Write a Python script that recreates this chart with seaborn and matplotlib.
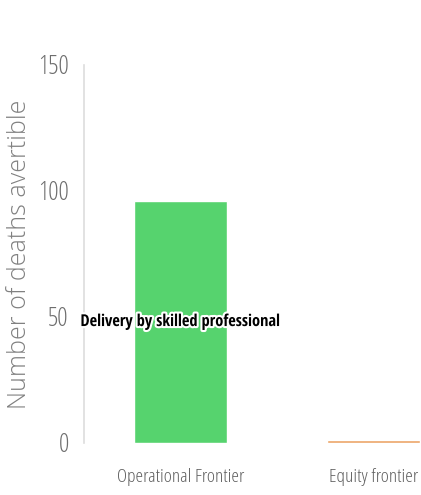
import matplotlib
matplotlib.use("Agg")
import matplotlib.pyplot as plt
import matplotlib.patheffects as pe
from matplotlib import font_manager as fm
import seaborn as sns
import pandas as pd

categories = ["Operational Frontier", "Equity frontier"]
deaths_averted = [96, 1]
bar_colors = ["#56d36e", "#eca465"]
series_label = "Delivery by skilled professional"
y_ticks = [0, 50, 100, 150]

sns.set_theme(style="white")
plt.rcParams["font.family"] = ["Open Sans", "DejaVu Sans"]


def font_file(name):
    for f in fm.fontManager.ttflist:
        if f.fname.endswith(name):
            return fm.FontProperties(fname=f.fname)
    return fm.FontProperties(family="DejaVu Sans")


cond_light = font_file("OpenSans-CondLight.ttf")
cond_bold = font_file("OpenSans-CondBold.ttf")
sans_light = font_file("OpenSans-Light.ttf")

df = pd.DataFrame({"frontier": categories, "deaths": deaths_averted})

fig = plt.figure(figsize=(4.21, 4.95), dpi=100)
ax = fig.add_axes([84 / 421, (495 - 443) / 495, 386 / 421, 378 / 495])

sns.barplot(data=df, x="frontier", y="deaths", hue="frontier", palette=bar_colors,
            width=0.48, legend=False, ax=ax, saturation=1)

ax.set_xlim(-0.5, 1.5)
ax.set_ylim(0, 150)
ax.set_yticks(y_ticks)
ax.tick_params(axis="y", length=0, pad=11)
ax.tick_params(axis="x", length=0, pad=18)
for lbl in ax.get_yticklabels():
    lbl.set_fontproperties(cond_light)
    lbl.set_fontsize(18.5)
    lbl.set_color("#6e6e6e")
for lbl in ax.get_xticklabels():
    lbl.set_fontproperties(cond_light)
    lbl.set_fontsize(14)
    lbl.set_color("#606060")
ax.set_xlabel("")

ylabel_font = sans_light.copy()
ylabel_font.set_size(18)
ax.set_ylabel("Number of deaths avertible", fontproperties=ylabel_font, color="#808080")
ax.yaxis.set_label_coords(-0.135, 0.5)

for side in ["top", "right", "bottom"]:
    ax.spines[side].set_visible(False)
ax.spines["left"].set_color("#dddddd")
ax.spines["left"].set_linewidth(1.2)

label_font = cond_bold.copy()
label_font.set_size(11.8)
ax.text(0, deaths_averted[0] / 2, series_label, ha="center", va="center",
        fontproperties=label_font, color="black",
        path_effects=[pe.withStroke(linewidth=3, foreground="white")])

fig.savefig("out.png", dpi=100)
